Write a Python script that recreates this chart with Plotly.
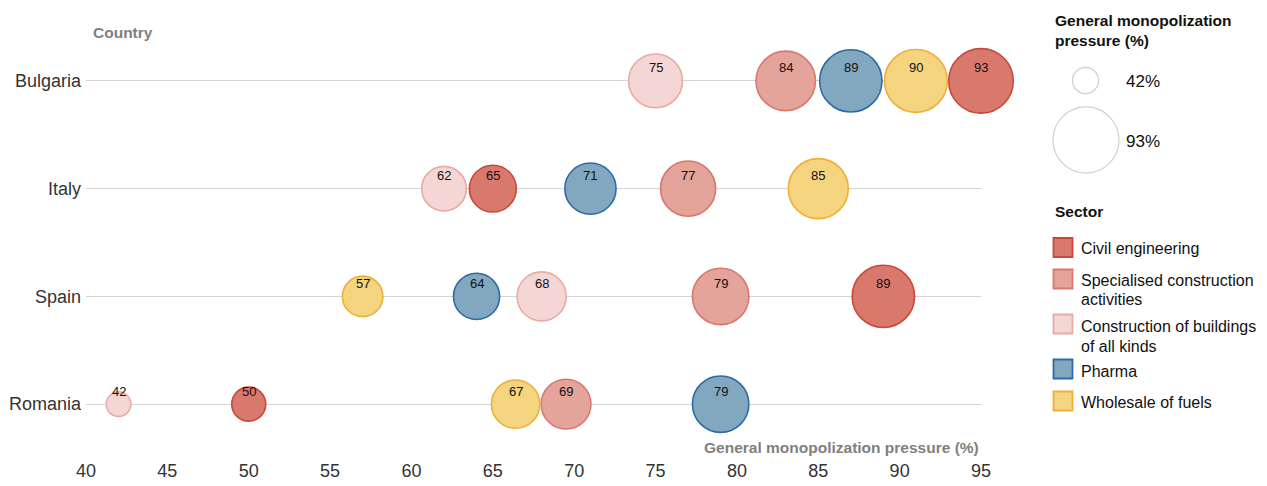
import plotly.graph_objects as go
import math

# ---------------- data ----------------
countries = ["Bulgaria", "Italy", "Spain", "Romania"]
sectors = ["Civil engineering", "Specialised construction activities",
           "Construction of buildings of all kinds", "Pharma", "Wholesale of fuels"]
sector_label_lines = [["Civil engineering"], ["Specialised construction", "activities"],
                      ["Construction of buildings", "of all kinds"], ["Pharma"], ["Wholesale of fuels"]]

# values per sector, in order of countries (Bulgaria, Italy, Spain, Romania)
civil_engineering = [93, 65, 89, 50]
specialised_construction = [84, 77, 79, 69]
construction_buildings = [75, 62, 68, 42]
pharma = [89, 71, 64, 79]
wholesale_fuels = [90, 85, 57, 67]
# displayed (de-overlapped) x positions
civil_engineering_pos = [95, 65, 89, 50]
specialised_construction_pos = [83, 77, 79, 69.5]
construction_buildings_pos = [75, 62, 68, 42]
pharma_pos = [87, 71, 64, 79]
wholesale_fuels_pos = [91, 85, 57, 66.4]

x_ticks = [40, 45, 50, 55, 60, 65, 70, 75, 80, 85, 90, 95]
size_legend_values = [42, 93]

values = [civil_engineering, specialised_construction, construction_buildings, pharma, wholesale_fuels]
positions = [civil_engineering_pos, specialised_construction_pos, construction_buildings_pos,
             pharma_pos, wholesale_fuels_pos]

fills = ["#d9796d", "#e4a39b", "#f4d7d5", "#82a8c0", "#f4d47f"]
lines = ["#c9483a", "#d9786d", "#e8aba6", "#2e6aa8", "#efaf3a"]

FONT = "Liberation Sans, Arial, Helvetica, sans-serif"
O = 8  # page body margin offset


def diam(v):
    return 8.5 * math.sqrt(v - 32.6)


fig = go.Figure()
annotations = []
for s, vals, pos, fc, lc in zip(sectors, values, positions, fills, lines):
    fig.add_trace(go.Scatter(
        x=pos, y=countries, mode="markers", name=s,
        marker=dict(size=[diam(v) - 1.5 for v in vals], sizemode="diameter",
                    color=fc, opacity=1, line=dict(color=lc, width=1.6)),
        cliponaxis=False, showlegend=False, hoverinfo="text",
        text=[f"{c}: {v}" for c, v in zip(countries, vals)],
    ))
    for c, v, p in zip(countries, vals, pos):
        annotations.append(dict(x=p, y=c, xref="x", yref="y", text=str(v), showarrow=False,
                                yshift=13, font=dict(size=13, color="#111", family=FONT)))

# plot-area geometry (screen pixels)
L, R, T, B = 86, 981, 27, 458
W, H = R - L, B - T
FW, FH = 1267 - O, 486 - O


def px(xp):
    return (xp - L) / W


def py(yp):
    return (B - yp) / H


def label(x, y, text, size, color, bold=False, anchor="left"):
    annotations.append(dict(x=px(x), y=py(y), xref="paper", yref="paper", xanchor=anchor,
                            yanchor="middle", text=f"<b>{text}</b>" if bold else text,
                            showarrow=False, font=dict(size=size, color=color, family=FONT)))


# axis captions
label(91, 32, "Country", 15.5, "#808080", bold=True)
label(981, 447, "General monopolization pressure (%)", 15.5, "#808080", bold=True, anchor="right")

# legend: size section
label(1053, 20, "General monopolization", 15.5, "#111", bold=True)
label(1053, 41, "pressure (%)", 15.5, "#111", bold=True)
shapes = []
size_centers = [(1085.5, 80.5), (1086, 140)]
for v, (cx, cy) in zip(size_legend_values, size_centers):
    d = diam(v)
    shapes.append(dict(type="circle", xref="paper", yref="paper", xsizemode="pixel",
                       ysizemode="pixel", xanchor=px(cx), yanchor=py(cy),
                       x0=-d / 2, x1=d / 2, y0=-d / 2, y1=d / 2,
                       line=dict(color="#d0d0d0", width=1.2), fillcolor="rgba(0,0,0,0)"))
    label(1124, cy + 1, f"{v}%", 17, "#111")

# legend: sector section
label(1053, 211, "Sector", 15.5, "#111", bold=True)
square_centers = [247.5, 279, 324, 369, 401]
text_first_line = [248, 280, 326, 371, 402]
for lab_lines, fc, lc, sc, tc in zip(sector_label_lines, fills, lines, square_centers, text_first_line):
    shapes.append(dict(type="rect", xref="paper", yref="paper", xsizemode="pixel",
                       ysizemode="pixel", xanchor=px(1063), yanchor=py(sc),
                       x0=-9.5, x1=9.5, y0=-9.5, y1=9.5,
                       line=dict(color=lc, width=1.8), fillcolor=fc))
    for i, ln in enumerate(lab_lines):
        label(1079, tc + 20 * i, ln, 16, "#111")

fig.update_layout(
    width=FW, height=FH,
    margin=dict(l=L - O, r=1267 - R, t=T - O, b=486 - B, autoexpand=False),
    paper_bgcolor="white", plot_bgcolor="white",
    font=dict(family=FONT, color="#333"),
    xaxis=dict(range=[40, 95], tickvals=x_ticks, showgrid=False, zeroline=False, automargin=False,
               showline=False, ticks="", ticklabelstandoff=0, tickfont=dict(size=18, color="#333")),
    yaxis=dict(type="category", categoryorder="array", categoryarray=countries[::-1],
               range=[-0.5, 3.5], showgrid=True, gridcolor="#d6d6d6", gridwidth=1.2,
               zeroline=False, showline=False, ticks="", ticklabelstandoff=4, automargin=False,
               tickfont=dict(size=18, color="#333")),
    annotations=annotations, shapes=shapes, showlegend=False,
)

fig.write_html("out.html")
